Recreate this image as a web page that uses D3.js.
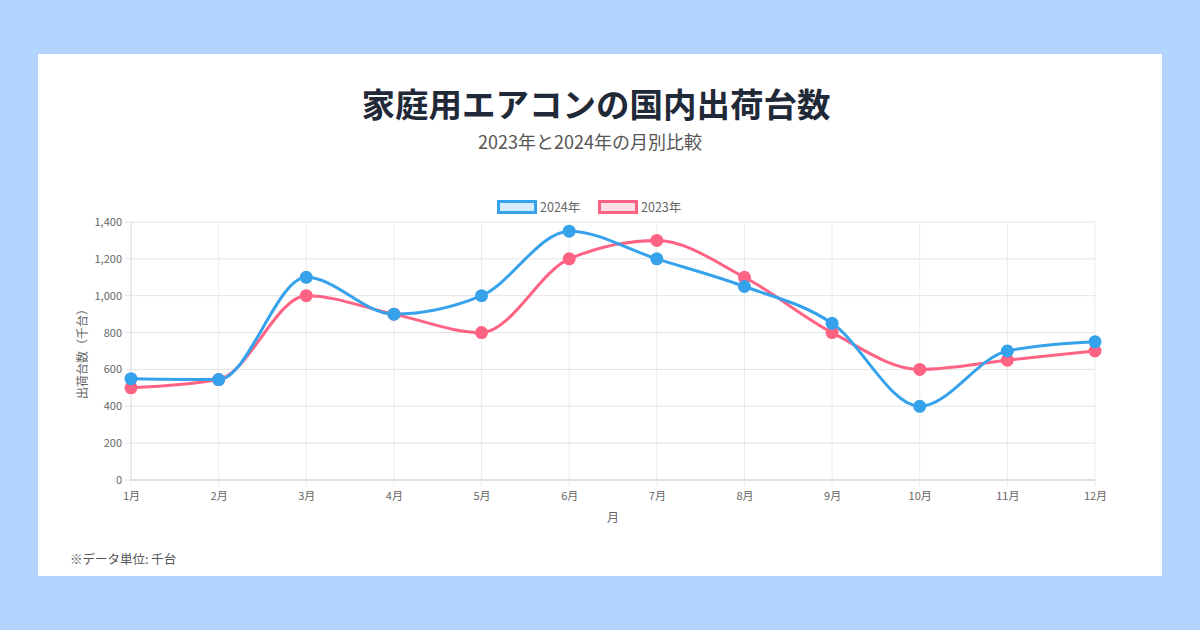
<!DOCTYPE html>
<html lang="ja">
<head>
<meta charset="utf-8">
<script src="https://cdn.jsdelivr.net/npm/d3@7"></script>
<style>
  html, body { margin: 0; padding: 0; }
  body {
    width: 1200px; height: 630px; background: #b3d4fe;
    font-family: "Noto Sans CJK JP", "Noto Sans", sans-serif;
    position: relative; overflow: hidden;
  }
  #card {
    position: absolute; left: 38px; top: 54px; width: 1124px; height: 522px;
    background: #fff;
  }
  svg { position: absolute; left: 0; top: 0; }
</style>
</head>
<body>
<div id="card"></div>
<script>
const MONTHS = ["1月", "2月", "3月", "4月", "5月", "6月", "7月", "8月", "9月", "10月", "11月", "12月"];
const SALES_2024 = [550, 545, 1100, 900, 1000, 1350, 1200, 1050, 850, 400, 700, 750];
const SALES_2023 = [500, 545, 1000, 900, 800, 1200, 1300, 1100, 800, 600, 650, 700];
const Y_TICKS = [0, 200, 400, 600, 800, 1000, 1200, 1400];

const SERIES = [
  { label: "2024年", values: SALES_2024, color: "#36a2eb", fill: "rgba(54,162,235,0.2)" },
  { label: "2023年", values: SALES_2023, color: "#ff6384", fill: "rgba(255,99,132,0.2)" }
];

const W = 1200, H = 630;
const M = { top: 222, right: 105, bottom: 150, left: 131 };
const iW = W - M.left - M.right;
const iH = H - M.top - M.bottom;

const svg = d3.select("body").append("svg")
  .attr("width", W).attr("height", H)
  .attr("viewBox", `0 0 ${W} ${H}`);

// title block
svg.append("text")
  .attr("x", 596).attr("y", 117)
  .attr("text-anchor", "middle")
  .attr("font-size", 33.5).attr("font-weight", 700)
  .attr("fill", "#1f2937")
  .text("家庭用エアコンの国内出荷台数");

svg.append("text")
  .attr("x", 590).attr("y", 149)
  .attr("text-anchor", "middle")
  .attr("font-size", 18)
  .attr("fill", "#555")
  .text("2023年と2024年の月別比較");

const g = svg.append("g").attr("transform", `translate(${M.left},${M.top})`);

const x = d3.scalePoint().domain(MONTHS).range([0, iW]);
const y = d3.scaleLinear().domain([0, 1400]).range([iH, 0]);

// grid
g.append("g").selectAll("line.vgrid")
  .data(MONTHS)
  .join("line")
  .attr("x1", d => x(d)).attr("x2", d => x(d))
  .attr("y1", 0).attr("y2", iH + 6)
  .attr("stroke", "#ececec").attr("stroke-width", 1);

g.append("g").selectAll("line.hgrid")
  .data(Y_TICKS)
  .join("line")
  .attr("x1", -6).attr("x2", iW)
  .attr("y1", d => y(d)).attr("y2", d => y(d))
  .attr("stroke", "#e4e4e4").attr("stroke-width", 1);

// axis lines
g.append("line").attr("x1", 0).attr("x2", iW).attr("y1", iH).attr("y2", iH)
  .attr("stroke", "#cfcfcf");
g.append("line").attr("x1", 0).attr("x2", 0).attr("y1", 0).attr("y2", iH)
  .attr("stroke", "#e0e0e0");

// axes (labels only)
const yAxis = g.append("g")
  .call(d3.axisLeft(y).tickValues(Y_TICKS).tickFormat(d3.format(",")).tickSize(0).tickPadding(9));
yAxis.select(".domain").remove();
yAxis.selectAll("text")
  .attr("font-family", "'Noto Sans CJK JP', sans-serif")
  .attr("font-size", 11).attr("fill", "#666");

const xAxis = g.append("g")
  .attr("transform", `translate(0,${iH})`)
  .call(d3.axisBottom(x).tickSize(0).tickPadding(12));
xAxis.select(".domain").remove();
xAxis.selectAll("text")
  .attr("font-family", "'Noto Sans CJK JP', sans-serif")
  .attr("font-size", 11).attr("fill", "#666");

// axis titles
g.append("text")
  .attr("x", x("6月") + (x("7月") - x("6月")) / 2).attr("y", iH + 42)
  .attr("text-anchor", "middle")
  .attr("font-size", 12).attr("fill", "#666")
  .text("月");

g.append("text")
  .attr("transform", "rotate(-90)")
  .attr("x", -iH / 2).attr("y", -44)
  .attr("text-anchor", "middle")
  .attr("font-size", 12).attr("fill", "#666")
  .text("出荷台数（千台）");

// lines and points
const line = d3.line()
  .x((d, i) => x(MONTHS[i]))
  .y(d => y(d))
  .curve(d3.curveMonotoneX);

const drawOrder = [SERIES[1], SERIES[0]];
drawOrder.forEach(s => {
  g.append("path")
    .datum(s.values)
    .attr("d", line)
    .attr("fill", "none")
    .attr("stroke", s.color)
    .attr("stroke-width", 3);
});
drawOrder.forEach(s => {
  g.append("g").selectAll("circle")
    .data(s.values)
    .join("circle")
    .attr("cx", (d, i) => x(MONTHS[i]))
    .attr("cy", d => y(d))
    .attr("r", 6.5)
    .attr("fill", s.color);
});

// legend
const legend = svg.append("g").attr("transform", "translate(497,200)");
let lx = 0;
SERIES.forEach(s => {
  const row = legend.append("g").attr("transform", `translate(${lx},0)`);
  row.append("rect")
    .attr("x", 1.5).attr("y", 1.5).attr("width", 37).attr("height", 11)
    .attr("fill", s.fill).attr("stroke", s.color).attr("stroke-width", 3);
  row.append("text")
    .attr("x", 43).attr("y", 11.5)
    .attr("font-size", 12.5).attr("fill", "#666")
    .text(s.label);
  lx += 101;
});

// footnote
svg.append("text")
  .attr("x", 70).attr("y", 564)
  .attr("font-size", 12.5).attr("fill", "#555")
  .text("※データ単位: 千台");
</script>
</body>
</html>
